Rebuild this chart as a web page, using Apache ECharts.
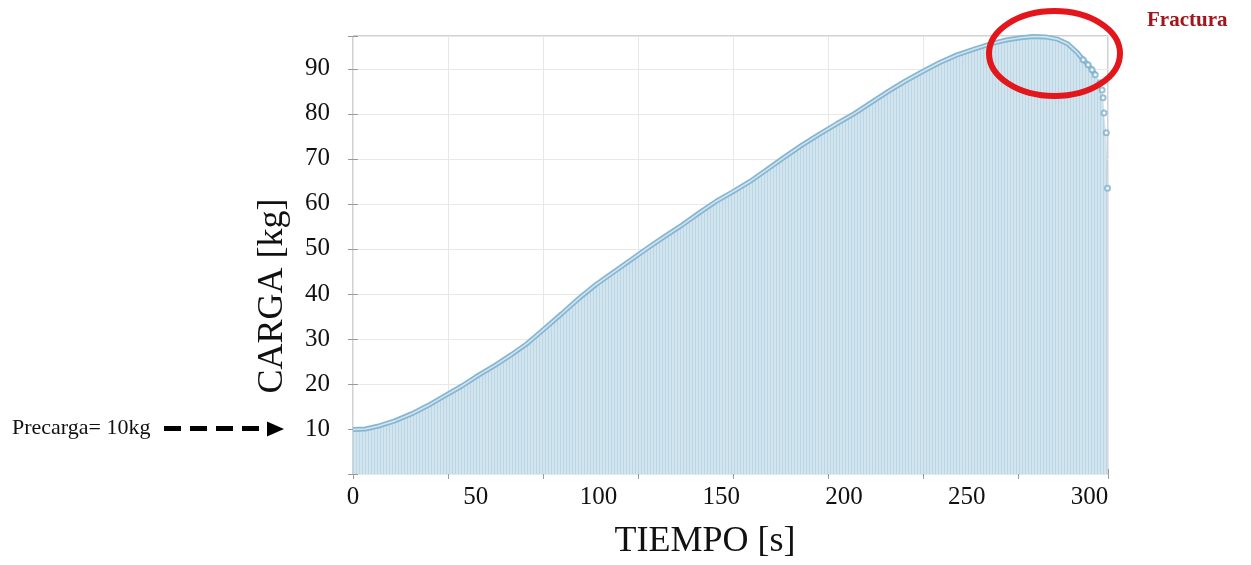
<!DOCTYPE html>
<html>
<head>
<meta charset="utf-8">
<script src="https://cdn.jsdelivr.net/npm/echarts@6/dist/echarts.min.js"></script>
<style>
  html, body { margin: 0; padding: 0; background: #fff; }
  #chart { width: 1251px; height: 565px; }
</style>
</head>
<body>
<div id="chart"></div>
<script>
// load curve: time [s] and load [kg]
var time = [0, 5, 10, 17, 24, 30.5, 37.5, 44.5, 51, 58, 64.5, 71, 78, 85, 92, 99, 106, 113, 120,
  127, 134, 141, 148, 155, 162, 169, 176, 183, 190, 197, 204, 211, 218, 225, 232, 239, 246, 253,
  260, 266, 272, 277, 282, 287, 291, 295];
var load = [9.9, 10.0, 10.6, 11.8, 13.4, 15.2, 17.4, 19.6, 21.9, 24.2, 26.5, 29.0, 32.3, 35.6, 39.0, 42.1, 44.8, 47.5, 50.2,
  52.8, 55.3, 58.0, 60.6, 62.8, 65.1, 67.8, 70.5, 73.1, 75.5, 77.8, 80.0, 82.5, 85.0, 87.3, 89.4, 91.4, 93.1, 94.4,
  95.6, 96.4, 96.9, 97.2, 97.1, 96.6, 95.6, 93.6];

// readings after the peak (loose circles at fracture)
var tailTime = [297.4, 299.4, 301.0, 302.3, 304.3, 305.1, 305.5, 305.9, 306.8, 307.3];
var tailLoad = [92.0, 90.9, 89.8, 88.7, 86.9, 85.3, 83.6, 80.2, 75.8, 63.5];

var xTicks = [0, 50, 100, 150, 200, 250, 300];
var yTicks = [10, 20, 30, 40, 50, 60, 70, 80, 90];

var serif = '"Liberation Serif", "DejaVu Serif", serif';

// thin vertical stripes for the filled area
function stripes() {
  var c = document.createElement('canvas');
  c.width = 3; c.height = 4;
  var ctx = c.getContext('2d');
  ctx.fillStyle = '#d2e5ee';
  ctx.fillRect(0, 0, 3, 4);
  ctx.fillStyle = '#bbd6e5';
  ctx.fillRect(2, 0, 1, 4);
  return c;
}

var pts = time.map(function (t, i) { return [t, load[i]]; });
var tail = tailTime.map(function (t, i) { return [t, tailLoad[i]]; });
var all = pts.concat(tail);
// dense band of markers continues a little past the peak
var band = pts.concat(tail.slice(0, 4));

var gridTick = { show: true, inside: true, length: 5, lineStyle: { color: '#9a9a9a' } };

var chart = echarts.init(document.getElementById('chart'));
chart.setOption({
  animation: false,
  grid: { left: 353, top: 36, right: 143, bottom: 91, show: true, borderColor: '#a3a3a3', borderWidth: 1 },
  xAxis: [
    {
      type: 'value', min: 0, max: 307.5, interval: 50, position: 'bottom',
      axisLine: { show: false }, axisTick: { show: false }, splitLine: { show: false },
      axisLabel: {
        margin: 11, fontFamily: serif, fontSize: 25, color: '#111',
        formatter: function (v) { return xTicks.indexOf(v) >= 0 ? String(v) : ''; }
      },
      name: 'TIEMPO [s]', nameLocation: 'middle', nameGap: 50,
      nameTextStyle: { fontFamily: serif, fontSize: 36, color: '#111', padding: [0, 51, 0, 0] }
    },
    {
      type: 'value', min: 0, max: 7.95, interval: 1, position: 'top',
      axisLine: { show: false }, axisTick: gridTick, axisLabel: { show: false },
      splitLine: { show: true, lineStyle: { color: '#e8e8e8' } }
    },
    {
      type: 'value', min: 0, max: 7.95, interval: 1, position: 'bottom',
      axisLine: { show: false }, axisTick: gridTick, axisLabel: { show: false },
      splitLine: { show: false }
    }
  ],
  yAxis: [
    {
      type: 'value', min: 0, max: 97.3, interval: 10, position: 'left',
      axisLine: { show: false }, axisTick: gridTick,
      axisLabel: {
        margin: 23, fontFamily: serif, fontSize: 25, color: '#111',
        formatter: function (v) { return yTicks.indexOf(v) >= 0 ? String(v) : ''; }
      },
      splitLine: { show: true, lineStyle: { color: '#e8e8e8' } },
      name: 'CARGA [kg]', nameLocation: 'middle', nameGap: 62,
      nameTextStyle: { fontFamily: serif, fontSize: 36, color: '#111', padding: [0, 82, 0, 0] }
    },
    {
      type: 'value', min: 0, max: 97.3, interval: 10, position: 'right',
      axisLine: { show: false }, axisTick: gridTick, axisLabel: { show: false },
      splitLine: { show: false }
    }
  ],
  series: [
    {
      type: 'line', data: all, showSymbol: false, silent: true, z: 1,
      lineStyle: { width: 0 },
      areaStyle: { color: { image: stripes(), repeat: 'repeat' }, opacity: 1 }
    },
    {
      type: 'line', data: band, showSymbol: false, z: 3,
      lineStyle: { width: 5, color: '#86b6d2' }
    },
    {
      type: 'line', data: band, showSymbol: false, z: 4,
      lineStyle: { width: 1.6, color: '#cfe4ef' }
    },
    {
      type: 'scatter', data: tail, symbol: 'emptyCircle', symbolSize: 5, z: 4,
      itemStyle: { color: '#7fb0cc', borderWidth: 1 }
    }
  ],
  graphic: [
    {
      type: 'ellipse', shape: { cx: 1054.5, cy: 53.5, rx: 65.5, ry: 42.5 },
      style: { fill: 'none', stroke: '#e3161b', lineWidth: 6 }, z: 100
    },
    {
      type: 'text', x: 1147, y: 21,
      style: { text: 'Fractura', font: 'bold 21px ' + serif, fill: '#a3151b', verticalAlign: 'middle' }
    },
    {
      type: 'text', x: 12, y: 428,
      style: { text: 'Precarga= 10kg', font: '22px ' + serif, fill: '#111', verticalAlign: 'middle' }
    },
    {
      type: 'line', shape: { x1: 164, y1: 428.5, x2: 262, y2: 428.5 },
      style: { stroke: '#000', lineWidth: 5, lineDash: [17, 9] }
    },
    {
      type: 'polygon', shape: { points: [[267, 421.5], [267, 436.5], [284, 429]] },
      style: { fill: '#000' }
    }
  ]
});
</script>
</body>
</html>
